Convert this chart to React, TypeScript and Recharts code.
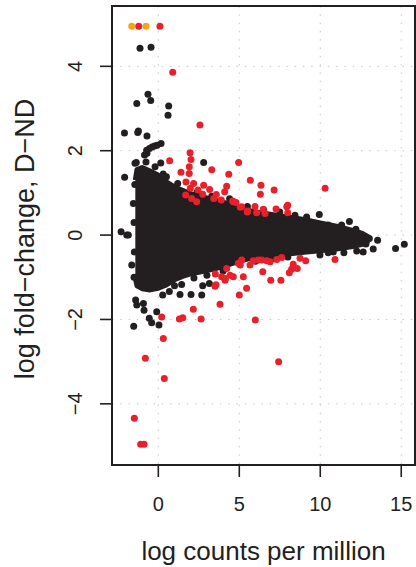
import {
  Area,
  CartesianGrid,
  ComposedChart,
  ReferenceArea,
  Scatter,
  XAxis,
  YAxis,
} from "recharts";

// axis ticks
const xTicks = [0, 5, 10, 15];
const yTicks = [-4, -2, 0, 2, 4];

// dense smear of genes: outline of the black body (logCPM, lower / upper logFC)
const smearX = [-1.42, -1.32, -1.0, -0.5, 0.0, 0.5, 1.0, 1.5, 2.0, 2.5, 3.0, 3.5, 4.0, 4.5, 5.0, 5.5, 6.0, 7.0, 8.0, 9.0, 10.0, 11.0, 12.0, 12.6, 13.0];
const smearLow = [-1.02, -1.2, -1.27, -1.3, -1.26, -1.18, -1.06, -0.98, -0.92, -0.88, -0.84, -0.8, -0.74, -0.68, -0.62, -0.57, -0.54, -0.49, -0.45, -0.41, -0.37, -0.33, -0.27, -0.22, -0.13];
const smearHigh = [1.3, 1.55, 1.6, 1.52, 1.42, 1.26, 1.14, 1.06, 0.98, 0.93, 0.88, 0.83, 0.78, 0.72, 0.65, 0.59, 0.55, 0.49, 0.43, 0.37, 0.29, 0.21, 0.11, 0.04, -0.05];

// non-DE genes outside the body
const blackPoints: [number, number][] = [
  [-1.13, 4.43], [-0.45, 4.45],
  [-0.64, 3.34], [-1.33, 3.12], [-0.47, 3.19], [0.64, 3.06], [0.6, 2.84],
  [-2.09, 2.42], [-1.23, 2.47], [-1.27, 2.43], [-0.7, 2.35],
  [-0.72, 2.01], [-0.55, 2.05], [-0.39, 2.09], [-0.23, 2.11], [-0.08, 2.13], [0.17, 2.17],
  [-0.85, 1.9], [-0.7, 1.94],
  [-1.36, 1.72], [-1.44, 1.7], [-0.76, 1.73], [0.15, 1.71], [2.8, 1.72], [-2.08, 1.37],
  [-1.45, 1.2], [-1.54, 0.75], [-1.5, 0.3], [-1.48, -0.4], [-1.5, -1.0],
  [-2.3, 0.08], [-1.95, 0.0], [-1.85, 0.0], [-1.64, -0.71], [-1.4, -1.54], [-1.33, -1.66],
  [-0.92, -1.62], [-0.88, -1.78], [-1.52, -2.16], [-0.56, -1.97], [-0.41, -2.08],
  [-0.1, -1.82], [0.04, -2.13], [0.27, -1.42], [0.68, -1.34], [1.34, -1.41],
  [2.02, -1.41], [2.68, -1.42], [2.74, -1.2], [1.44, -1.17], [3.15, -1.15],
  [-0.2, 1.62], [0.3, 1.45], [0.5, 1.38], [1.2, 1.22], [2.4, 1.02], [3.3, 0.92],
  [4.4, 0.86], [5.5, 0.68], [6.5, 0.6], [7.5, 0.55], [8.44, 0.47], [9.16, 0.43],
  [9.94, 0.49], [10.49, 0.24], [11.32, 0.24], [11.8, 0.32], [12.2, 0.14],
  [1.0, -1.2], [2.2, -1.02], [3.0, -0.95], [4.0, -0.85], [6.0, -0.62], [7.0, -0.56],
  [8.0, -0.52], [9.98, -0.47], [10.49, -0.42], [10.8, -0.4], [11.46, -0.42],
  [12.25, -0.38], [12.65, -0.4], [12.82, -0.21],
  [13.03, -0.08], [13.54, -0.12], [13.27, -0.33], [14.65, -0.32], [15.19, -0.22],
];

// DE genes
const redPoints: [number, number][] = [
  [-1.21, 4.95], [0.1, 4.95], [0.89, 3.86], [2.57, 2.61],
  [1.96, 1.95], [2.02, 1.79], [0.7, 1.76], [4.96, 1.72], [3.3, 1.55], [1.91, 1.62],
  [1.4, 1.49], [4.35, 1.44], [5.68, 1.3], [6.34, 1.18], [7.15, 1.07], [10.3, 1.11],
  [6.3, 0.97], [4.22, 1.16], [3.58, 0.96], [2.8, 1.18], [1.91, 1.46], [1.71, 1.26],
  [2.18, 1.22], [1.98, 1.11], [2.45, 1.07], [2.74, 0.97], [3.17, 1.08], [4.1, 1.03],
  [3.89, 0.83], [4.59, 0.81], [4.8, 0.77], [5.06, 0.66], [5.52, 0.57], [3.42, 0.87],
  [1.69, 0.95], [2.06, 0.87], [2.37, 0.79], [4.63, 0.79], [5.15, 0.67], [5.97, 0.68],
  [6.48, 0.61], [7.27, 0.62], [7.99, 0.71], [7.99, 0.53], [5.49, 0.55], [6.07, 0.53],
  [6.59, 0.51], [7.93, 0.67],
  [5.15, -0.59], [5.86, -0.61], [6.38, -0.59], [7.31, -0.58], [7.62, -0.53],
  [8.75, -0.55], [9.1, -0.61], [8.33, -0.69], [8.23, -0.81], [8.58, -0.79],
  [8.09, -0.89], [10.91, -0.58], [6.45, -0.87], [6.94, -1.07], [7.57, -1.07],
  [5.45, -1.26], [5.25, -0.99], [5.66, -0.71], [6.9, -0.63], [5.0, -1.42],
  [3.81, -1.64], [2.16, -1.76], [2.64, -1.99], [1.51, -1.96], [1.3, -1.99],
  [0.21, -1.94], [5.99, -2.01], [0.31, -2.45], [-0.8, -2.92], [7.43, -3.0],
  [0.37, -3.4], [3.5, -1.21], [4.12, -1.07], [4.63, -0.99], [4.22, -0.79],
  [4.94, -0.67], [3.52, -0.92], [3.91, -0.99], [4.43, -0.95], [6.17, -0.59],
  [6.69, -0.61], [3.56, -1.18], [4.14, -1.03], [5.06, -0.71],
  [-1.48, -4.34], [-1.09, -4.96], [-0.88, -4.96],
];

// genes with zero counts in one group
const orangePoints: [number, number][] = [
  [-1.64, 4.95], [-0.76, 4.95],
];

const xDomain = [-2.86, 15.85];
const yDomain = [-5.45, 5.43];

const FONT = "'Liberation Sans', Arial, Helvetica, sans-serif";
const INK = "#231f20";

const smearData = smearX.map((x, i) => ({ x, band: [smearLow[i], smearHigh[i]] }));
const toXY = (pts: [number, number][]) => pts.map(([x, y]) => ({ x, y }));

const fmt = (v: number) => (v < 0 ? `\u2212${Math.abs(v)}` : `${v}`);

const dot = (fill: string) => (props: any) => (
  <circle cx={props.cx} cy={props.cy} r={3.5} fill={fill} />
);

const XTick = ({ x, y, payload }: any) => (
  <text x={x} y={y + 32} textAnchor="middle" fontSize={20} fill={INK} fontFamily={FONT}>
    {fmt(payload.value)}
  </text>
);

const YTick = ({ x, y, payload }: any) => (
  <text
    x={x - 16}
    y={y}
    transform={`rotate(-90 ${x - 16} ${y})`}
    textAnchor="middle"
    fontSize={20}
    fill={INK}
    fontFamily={FONT}
  >
    {fmt(payload.value)}
  </text>
);

export default function App() {
  return (
    <div style={{ position: "absolute", left: 0, top: 0, background: "#fff" }}>
      <ComposedChart
        width={416}
        height={567}
        data={smearData}
        margin={{ top: 6, right: 1, bottom: 0, left: 0 }}
      >
        <CartesianGrid stroke="#c8c8c8" strokeDasharray="1.5 6.8" />
        <XAxis
          dataKey="x"
          type="number"
          domain={xDomain}
          ticks={xTicks}
          allowDataOverflow
          height={102}
          axisLine={false}
          tickSize={12}
          tickLine={{ stroke: INK, strokeWidth: 1.6 }}
          tick={<XTick />}
          label={{
            content: () => (
              <text x={263.5} y={560} textAnchor="middle" fontSize={26} fill={INK} fontFamily={FONT}>
                log counts per million
              </text>
            ),
          }}
        />
        <YAxis
          dataKey="y"
          type="number"
          domain={yDomain}
          ticks={yTicks}
          allowDataOverflow
          width={112}
          axisLine={false}
          tickSize={12}
          tickLine={{ stroke: INK, strokeWidth: 1.6 }}
          tick={<YTick />}
          label={{
            content: () => (
              <text
                x={34}
                y={239}
                transform="rotate(-90 34 239)"
                textAnchor="middle"
                fontSize={27}
                fill={INK}
                fontFamily={FONT}
              >
                log fold{"\u2212"}change, D{"\u2212"}ND
              </text>
            ),
          }}
        />
        <Area
          dataKey="band"
          type="linear"
          fill={INK}
          fillOpacity={1}
          stroke={INK}
          strokeWidth={5}
          strokeLinejoin="round"
          isAnimationActive={false}
        />
        <Scatter data={toXY(blackPoints)} shape={dot(INK)} isAnimationActive={false} />
        <Scatter data={toXY(redPoints)} shape={dot("#e8202a")} isAnimationActive={false} />
        <Scatter data={toXY(orangePoints)} shape={dot("#f7a21b")} isAnimationActive={false} />
        <ReferenceArea
          x1={xDomain[0]}
          x2={xDomain[1]}
          y1={yDomain[0]}
          y2={yDomain[1]}
          fill="none"
          fillOpacity={0}
          stroke={INK}
          strokeWidth={2}
        />
      </ComposedChart>
    </div>
  );
}
